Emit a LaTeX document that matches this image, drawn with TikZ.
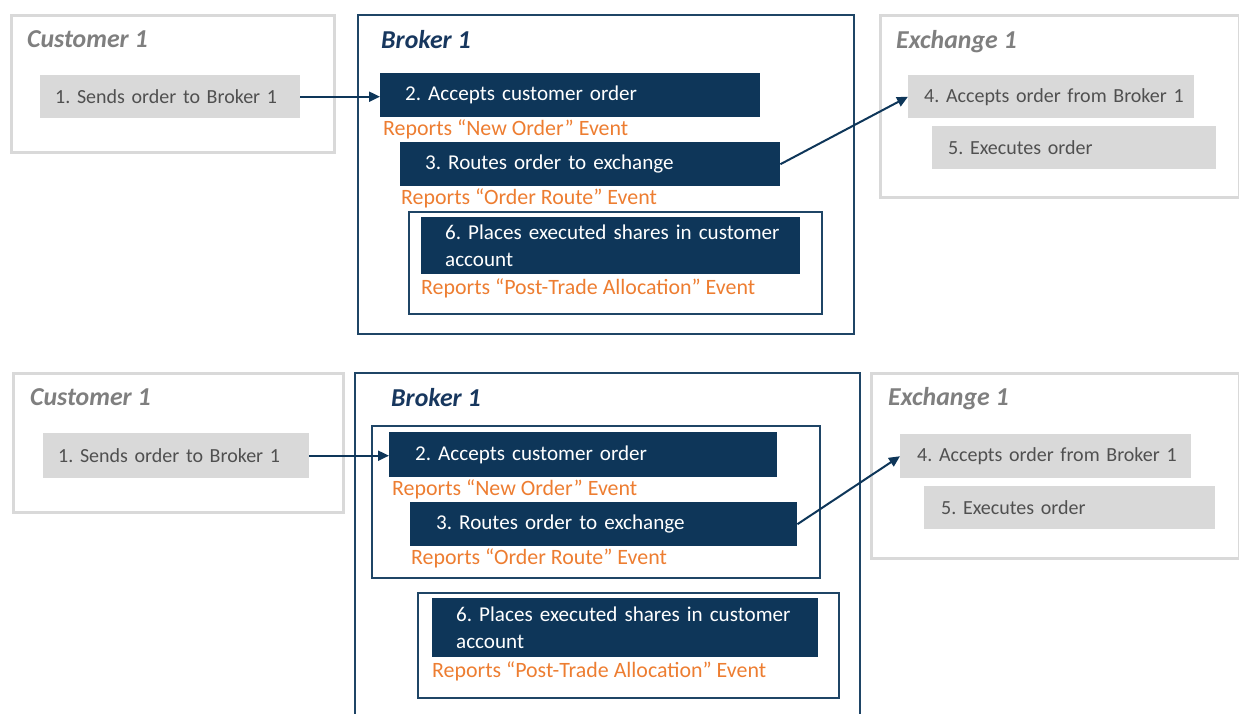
\documentclass[tikz,border=0pt]{standalone}
\usepackage{fontspec}
\setmainfont{Carlito}
\usetikzlibrary{arrows.meta, positioning}
\definecolor{catnavy}{HTML}{0E3659}
\definecolor{catline}{HTML}{1F4566}
\definecolor{cathead}{HTML}{17375E}
\definecolor{catgrey}{HTML}{D9D9D9}
\definecolor{catgreytext}{HTML}{505050}
\definecolor{catheadgrey}{HTML}{7F7F7F}
\definecolor{catorange}{HTML}{ED7D31}
\frenchspacing
\tikzset{
  >={Triangle[length=11pt, width=10pt]},
  box/.style={rectangle, anchor=north west, align=left, inner ysep=0pt,
              font=\fontsize{21.1pt}{26.5pt}\selectfont},
  boxn/.style={box, fill=catnavy, text=white, inner xsep=25pt},
  boxg/.style={box, fill=catgrey, text=catgreytext, inner xsep=15pt,
               font=\fontsize{20pt}{26pt}\selectfont},
  grp/.style={rectangle, anchor=north west, draw=catline, line width=2.4pt, inner sep=0pt},
  grpg/.style={grp, draw=catgrey, line width=2.6pt},
  hdr/.style={anchor=base west, inner sep=0pt, text=cathead,
              font=\fontsize{25.8pt}{30pt}\selectfont\bfseries\itshape},
  hdrg/.style={hdr, text=catheadgrey},
  rep/.style={anchor=base west, inner sep=0pt, text=catorange,
              font=\fontsize{21.9pt}{26.5pt}\selectfont},
  flow/.style={->, line width=2pt, draw=catnavy},
}
\begin{document}
\begin{tikzpicture}[x=1pt, y=-1pt]
  \useasboundingbox (0,0) rectangle (1239,713);
  % top: one group round step 6
  \node[grpg, minimum width=323pt, minimum height=137pt] (cust1) at (10,14) {};
  \node[hdrg] (cust1hd) at (27,47) {Customer 1};
  \node[boxg, minimum width=260pt, minimum height=43pt, text width=230pt] (send1) at (40,75) {\mbox{1. Sends order to Broker 1}};
  \node[grp, minimum width=496pt, minimum height=319pt] (brk1) at (357,14) {};
  \node[hdr] (brk1hd) at (381,48) {Broker 1};
  \node[boxn, minimum width=380pt, minimum height=44pt, text width=330pt] (acc1) at (380,73) {2. Accepts customer order};
  \node[below right=18pt and 3pt of acc1.south west, rep] (acc1rep) {Reports “New Order” Event};
  \node[boxn, minimum width=380pt, minimum height=44pt, text width=330pt] (route1) at (400,142) {3. Routes order to exchange};
  \node[below right=18pt and 1pt of route1.south west, rep] (route1rep) {Reports “Order Route” Event};
  \node[grp, minimum width=413pt, minimum height=102pt] (alloc1grp) at (408,211) {};
  \node[boxn, minimum width=379pt, minimum height=57pt, text width=331pt, inner xsep=24pt] (alloc1) at (421,217) {\mbox{6. Places executed shares in customer}\\account};
  \node[below right=20pt and 0pt of alloc1.south west, rep] (alloc1rep) {Reports “Post-Trade Allocation” Event};
  \node[grpg, minimum width=359pt, minimum height=182pt] (exch1) at (879,14) {};
  \node[hdrg] (exch1hd) at (896,48) {Exchange 1};
  \node[boxg, minimum width=286pt, minimum height=43pt, text width=254pt, inner xsep=16pt] (recv1) at (908,75) {\mbox{4. Accepts order from Broker 1}};
  \node[boxg, minimum width=284pt, minimum height=43pt, text width=252pt, inner xsep=16pt] (exec1) at (932,126) {5. Executes order};
  \draw[flow] (send1.east) -- (send1.east -| acc1.west);
  \draw[flow] (route1.east) -- (recv1.west);

  % bottom: one group round steps 2 and 3
  \node[grpg, minimum width=330pt, minimum height=139pt] (cust2) at (12,372) {};
  \node[hdrg] (cust2hd) at (30,405) {Customer 1};
  \node[boxg, minimum width=266pt, minimum height=45pt, text width=236pt] (send2) at (43,433) {\mbox{1. Sends order to Broker 1}};
  \node[grp, minimum width=505pt, minimum height=360pt] (brk2) at (354,372) {};
  \node[hdr] (brk2hd) at (391,406) {Broker 1};
  \node[grp, minimum width=448pt, minimum height=152pt] (route2grp) at (371,425) {};
  \node[boxn, minimum width=388pt, minimum height=45pt, text width=336pt, inner xsep=26pt] (acc2) at (389,432) {2. Accepts customer order};
  \node[below right=18pt and 3pt of acc2.south west, rep] (acc2rep) {Reports “New Order” Event};
  \node[boxn, minimum width=387pt, minimum height=44pt, text width=335pt, inner xsep=26pt] (route2) at (410,502) {3. Routes order to exchange};
  \node[below right=18pt and 1pt of route2.south west, rep] (route2rep) {Reports “Order Route” Event};
  \node[grp, minimum width=421pt, minimum height=105pt] (alloc2grp) at (417,592) {};
  \node[boxn, minimum width=386pt, minimum height=59pt, text width=338pt, inner xsep=24pt] (alloc2) at (432,598) {\mbox{6. Places executed shares in customer}\\account};
  \node[below right=20pt and 0pt of alloc2.south west, rep] (alloc2rep) {Reports “Post-Trade Allocation” Event};
  \node[grpg, minimum width=368pt, minimum height=185pt] (exch2) at (870,372) {};
  \node[hdrg] (exch2hd) at (888,405) {Exchange 1};
  \node[boxg, minimum width=291pt, minimum height=44pt, text width=257pt, inner xsep=17pt] (recv2) at (900,434) {\mbox{4. Accepts order from Broker 1}};
  \node[boxg, minimum width=291pt, minimum height=43pt, text width=257pt, inner xsep=17pt] (exec2) at (924,486) {5. Executes order};
  \draw[flow] (send2.east) -- (send2.east -| acc2.west);
  \draw[flow] (route2.east) -- (recv2.west);
\end{tikzpicture}
\end{document}
